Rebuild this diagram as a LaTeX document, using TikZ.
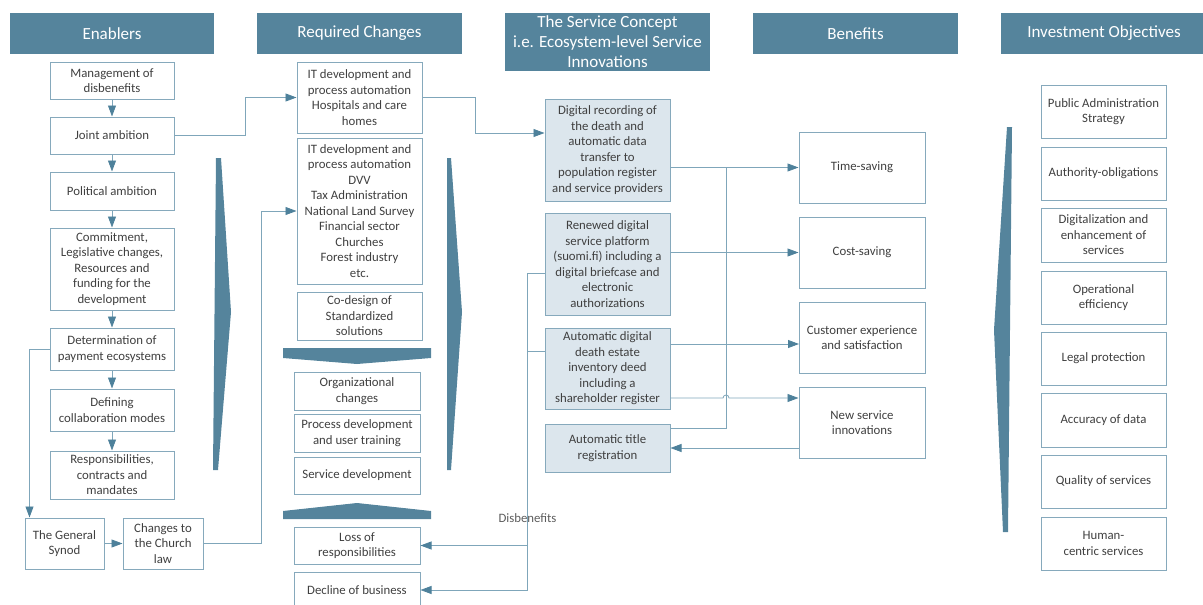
\documentclass[tikz,border=0pt]{standalone}
\usepackage{fontspec}
\setmainfont{Carlito}
\usepackage{xcolor}
\usetikzlibrary{arrows.meta}

\definecolor{headblue}{HTML}{55849C}
\definecolor{boxline}{HTML}{86A9BC}
\definecolor{linecol}{HTML}{7FA6BA}
\definecolor{tipblue}{HTML}{4E819B}
\definecolor{svfill}{HTML}{DCE6ED}
\definecolor{txt}{HTML}{3F3F3F}

\tikzset{
  box/.style={draw=boxline, line width=1pt, align=center, inner sep=1pt,
    text=txt, font=\fontsize{12.8}{15.5}\selectfont},
  svbox/.style={box, fill=svfill},
  head/.style={fill=headblue, text=white, align=center, inner sep=1pt,
    font=\fontsize{17}{20}\selectfont, minimum height=41pt},
  wire/.style={draw=linecol, line width=0.8pt},
  conn/.style={wire, -{Triangle[length=11pt,width=8pt,color=tipblue]}},
  bigarrow/.style={fill=headblue},
  dis/.style={text=txt!85, font=\fontsize{12.8}{15}\selectfont, inner sep=0pt}
}

\begin{document}
\begin{tikzpicture}[x=1pt, y=-1pt]
\useasboundingbox (0,0) rectangle (1203,605);
% headers
\node [head, minimum width=204pt] (hEn) at (112,33.5) {Enablers};
\node [head, minimum width=205pt] (hReq) at (359.5,33.5) {Required Changes};
\node [head, minimum width=205pt, minimum height=58pt] (hSv) at (607.5,42) {The Service Concept\\i.e. Ecosystem-level Service\\Innovations};
\node [head, minimum width=205pt] (hBen) at (855.5,33.5) {Benefits};
\node [head, minimum width=206pt] (hInv) at (1104,33.5) {Investment Objectives};
% big arrows
\fill [bigarrow] (216,158) -- (221,158) -- (231,312) -- (218,470) -- (213,470) -- cycle;
\fill [bigarrow] (447,158) -- (451,158) -- (462,312) -- (451,470) -- (447,470) -- cycle;
\fill [bigarrow] (1007,127) -- (1012,127) -- (1008,532) -- (1003,532) -- (994,330) -- cycle;
\fill [bigarrow] (283,348) -- (431,348) -- (431,358) -- (357,364) -- (283,358) -- cycle;
\fill [bigarrow] (283,519) -- (431,519) -- (431,511) -- (357,503) -- (283,511) -- cycle;
% enablers
\node [box, minimum width=124pt, minimum height=37pt] (mgmt) at (112,80.5) {Management of\\disbenefits};
\node [box, minimum width=124pt, minimum height=37pt] (joint) at (112,135.5) {Joint ambition};
\node [box, minimum width=124pt, minimum height=38pt] (pol) at (112,191) {Political ambition};
\node [box, minimum width=124pt, minimum height=82pt] (commit) at (112,269) {Commitment,\\Legislative changes,\\Resources and\\funding for the\\development};
\node [box, minimum width=124pt, minimum height=42pt] (determ) at (112,349) {Determination of\\payment ecosystems};
\node [box, minimum width=124pt, minimum height=42pt] (defcol) at (112,410) {Defining\\collaboration modes};
\node [box, minimum width=124pt, minimum height=48pt] (resp) at (112,475) {Responsibilities,\\contracts and\\mandates};
\node [box, minimum width=79pt, minimum height=51pt] (synod) at (64.5,543.5) {The General\\Synod};
\node [box, minimum width=80pt, minimum height=51pt] (church) at (163,543.5) {Changes to\\the Church\\law};
% required changes
\node [box, minimum width=125pt, minimum height=71pt] (ithosp) at (359.5,97.5) {IT development and\\process automation\\Hospitals and care\\homes};
\node [box, minimum width=125pt, minimum height=146pt] (itdvv) at (359.5,211) {IT development and\\process automation\\DVV\\Tax Administration\\National Land Survey\\Financial sector\\Churches\\Forest industry\\etc.};
\node [box, minimum width=125pt, minimum height=48pt] (codes) at (359.5,316) {Co-design of\\Standardized\\solutions};
\node [box, minimum width=126pt, minimum height=38pt] (orgch) at (357,391) {Organizational\\changes};
\node [box, minimum width=126pt, minimum height=38pt] (procdev) at (357,433) {Process development\\and user training};
\node [box, minimum width=126pt, minimum height=37pt] (servdev) at (357,475.5) {Service development};
\node [box, minimum width=126pt, minimum height=37pt] (loss) at (357,545.5) {Loss of\\responsibilities};
\node [box, minimum width=126pt, minimum height=36pt] (decline) at (357,590) {Decline of business};
% service concept
\node [svbox, minimum width=125pt, minimum height=102pt] (digrec) at (607.5,150) {Digital recording of\\the death and\\automatic data\\transfer to\\population register\\and service providers};
\node [svbox, minimum width=125pt, minimum height=102pt] (renew) at (607.5,264) {Renewed digital\\service platform\\(suomi.fi) including a\\digital briefcase and\\electronic\\authorizations};
\node [svbox, minimum width=125pt, minimum height=81pt] (estate) at (607.5,368.5) {Automatic digital\\death estate\\inventory deed\\including a\\shareholder register};
\node [svbox, minimum width=125pt, minimum height=48pt] (title) at (607.5,448) {Automatic title\\registration};
% benefits
\node [box, minimum width=126pt, minimum height=71pt] (time) at (862,167.5) {Time-saving};
\node [box, minimum width=126pt, minimum height=71pt] (cost) at (862,252.5) {Cost-saving};
\node [box, minimum width=126pt, minimum height=71pt] (cust) at (862,337.5) {Customer experience\\and satisfaction};
\node [box, minimum width=126pt, minimum height=71pt] (newsv) at (862,422.5) {New service\\innovations};
% investment objectives
\node [box, minimum width=125pt, minimum height=53pt] (pas) at (1103.5,111.5) {Public Administration\\Strategy};
\node [box, minimum width=125pt, minimum height=53pt] (auth) at (1103.5,173.5) {Authority-obligations};
\node [box, minimum width=125pt, minimum height=54pt] (digit) at (1103.5,235) {Digitalization and\\enhancement of\\services};
\node [box, minimum width=125pt, minimum height=53pt] (opeff) at (1103.5,297.5) {Operational\\efficiency};
\node [box, minimum width=125pt, minimum height=53pt] (legal) at (1103.5,358.5) {Legal protection};
\node [box, minimum width=125pt, minimum height=54pt] (acc) at (1103.5,420) {Accuracy of data};
\node [box, minimum width=125pt, minimum height=53pt] (qual) at (1103.5,481.5) {Quality of services};
\node [box, minimum width=125pt, minimum height=53pt] (human) at (1103.5,543.5) {Human-\\centric services};
% enabler chain
\draw [conn] (mgmt) -- (joint);
\draw [conn] (joint) -- (pol);
\draw [conn] (pol) -- (commit);
\draw [conn] (commit) -- (determ);
\draw [conn] (determ) -- (defcol);
\draw [conn] (defcol) -- (resp);
\draw [conn] (determ.west) -| ([xshift=5pt]synod.north west);
\draw [conn] (synod) -- (church);
\draw [conn] (church.east) -- ++(58,0) |- (itdvv.west);
\draw [conn] (joint.east) -- ++(71,0) |- (ithosp.west);
\draw [conn] (ithosp.east) -- ++(53,0) |- ([yshift=17pt]digrec.west);
% benefits links
\coordinate (jt) at (726,168);
\coordinate (jb) at (726,428);
\coordinate (cuIn) at (799,344);
\coordinate (hop) at (726,398);
\draw [conn] (digrec.east |- time.west) -- (time.west);
\draw [conn] (renew.east |- cost.west) -- (cost.west);
\draw [conn] (estate.east |- cuIn) -- (cuIn);
\draw [wire] (jt) -- (jb) -- (jb -| title.east);
\draw [conn] (estate.east |- hop) -- ([xshift=-3pt]hop) arc[start angle=180, end angle=360, radius=3] -- (newsv.west |- hop);
\draw [conn] (title.east -| newsv.west) -- (title.east);
% disbenefits
\node [dis] (disb) at (527.5,518) {Disbenefits};
\coordinate (dv) at (528,0);
\draw [conn] ([yshift=-9pt]renew.west) -- ++(-17,0) |- (decline.east);
\draw [wire] ([yshift=17.5pt]estate.west) -- ++(-17,0);
\draw [conn] (dv |- loss.east) -- (loss.east);
\end{tikzpicture}
\end{document}
